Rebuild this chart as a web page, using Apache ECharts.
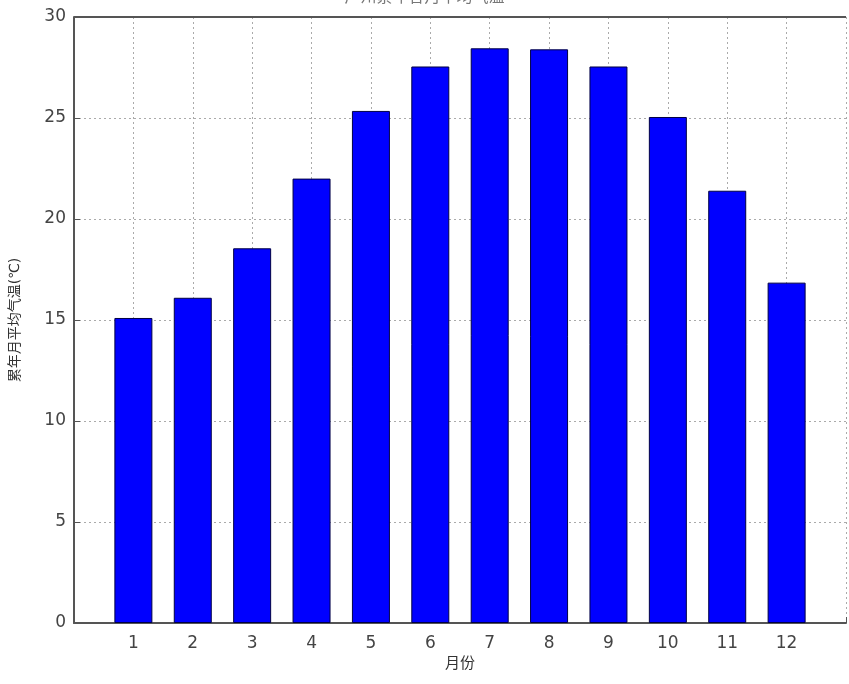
<!DOCTYPE html>
<html><head><meta charset="utf-8">
<script src="https://cdn.jsdelivr.net/npm/echarts@6/dist/echarts.min.js"></script>
<style>html,body{margin:0;padding:0;background:#fff}#c{width:849px;height:684px}</style>
</head><body><div id="c"></div>
<script>
const months = [1,2,3,4,5,6,7,8,9,10,11,12];
const temps = [15.1,16.1,18.55,22.0,25.35,27.55,28.45,28.4,27.55,25.05,21.4,16.85];
const yTicks = [0,5,10,15,20,25,30];

const chart = echarts.init(document.getElementById('c'));
const fontFam = '"DejaVu Sans", "Noto Sans CJK SC", sans-serif';
chart.setOption({
  animation: false,
  title: {text: '广州累年各月平均气温', left: 'center', top: -15, textStyle:{fontSize:16, color:'#777', fontWeight:'normal', fontFamily: fontFam}},
  grid: {left: 74, top: 17, width: 783, height: 606, containLabel: false},
  xAxis: {
    type: 'value', min: 0, max: 13, interval: 1,
    name: '月份', nameLocation: 'middle', nameGap: 34,
    nameTextStyle: {fontSize: 15, color: '#333', fontFamily: fontFam},
    axisLine: {show: true, onZero: false, lineStyle: {color: '#555', width: 2}},
    axisTick: {show: true, inside: true, length: 6, lineStyle: {color: '#555'}},
    axisLabel: {fontSize: 17, color: '#444', margin: 12, fontFamily: fontFam,
      formatter: v => months.includes(v) ? String(v) : ''},
    splitLine: {show: true, lineStyle: {color: '#aaa', type: [2,3], width: 1}}
  },
  yAxis: {
    type: 'value', min: 0, max: 30, interval: 5,
    name: '累年月平均气温(℃)', nameLocation: 'middle', nameGap: 52,
    nameTextStyle: {fontSize: 14, color: '#333', fontFamily: fontFam},
    axisLine: {show: true, lineStyle: {color: '#555', width: 2}},
    axisTick: {show: true, inside: true, length: 6, lineStyle: {color: '#555'}},
    axisLabel: {fontSize: 17, color: '#444', margin: 8, fontFamily: fontFam,
      formatter: v => yTicks.includes(v) ? String(v) : ''},
    splitLine: {show: true, lineStyle: {color: '#aaa', type: [2,3], width: 1}}
  },
  series: [{
    type: 'bar',
    data: months.map((m,i) => [m, temps[i]]),
    barWidth: 38,
    itemStyle: {color: '#0000ff', borderColor: '#000044', borderWidth: 1}
  }, {
    type: 'line', data: [[0,30],[13,30]], symbol: 'none', silent: true,
    lineStyle: {color: '#555', width: 2}
  }]
});
</script></body></html>
